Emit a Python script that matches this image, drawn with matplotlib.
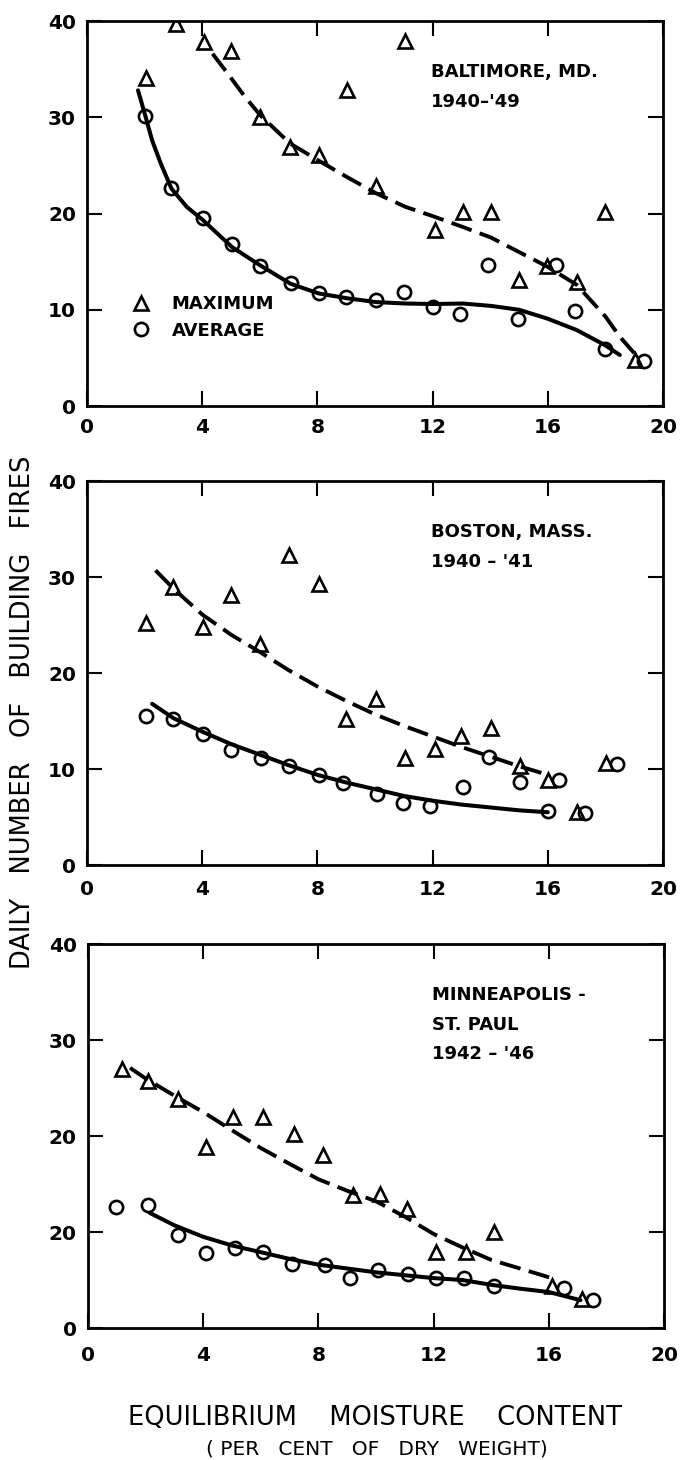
"""Daily number of building fires vs equilibrium moisture content, three cities."""

import matplotlib
matplotlib.use("Agg")
import matplotlib.pyplot as plt
from matplotlib.lines import Line2D

# ---- Baltimore, Md. 1940-'49 ----
balt_max_x = [2.06, 3.08, 4.06, 5.0, 6.0, 7.04, 8.07, 9.02, 10.04, 11.05, 12.07, 13.05, 14.03, 15.0, 15.97, 17.0, 18.0, 19.02]
balt_max_y = [34.1, 39.7, 37.8, 36.9, 30.0, 26.9, 26.1, 32.8, 22.9, 37.9, 18.3, 20.2, 20.2, 13.1, 14.5, 12.9, 20.2, 4.8]
balt_avg_x = [2.03, 2.93, 4.03, 5.04, 6.02, 7.07, 8.04, 8.99, 10.04, 11.0, 12.03, 12.96, 13.94, 14.96, 16.3, 16.96, 18.0, 19.35]
balt_avg_y = [30.1, 22.6, 19.5, 16.8, 14.6, 12.8, 11.7, 11.3, 11.0, 11.8, 10.3, 9.6, 14.7, 9.0, 14.7, 9.9, 5.9, 4.7]
balt_fit_avg_x = [1.77, 2.03, 2.26, 2.56, 2.93, 3.46, 4.03, 5.04, 6.02, 7.07, 8.04, 9.02, 10.04, 11.05, 12.03, 13.05, 14.03, 15.0, 15.97, 17.0, 18.0, 18.5]
balt_fit_avg_y = [32.8, 30.1, 27.6, 25.2, 22.6, 20.7, 19.3, 16.5, 14.6, 12.7, 11.7, 11.2, 10.8, 10.65, 10.6, 10.65, 10.4, 10.0, 9.1, 7.9, 6.3, 5.3]
balt_fit_max_x = [4.36, 4.92, 5.49, 6.02, 7.04, 8.04, 9.02, 10.04, 11.05, 12.03, 13.05, 14.03, 15.0, 15.97, 17.0, 18.0, 18.5, 19.0]
balt_fit_max_y = [36.6, 34.4, 32.1, 30.2, 27.3, 25.5, 23.8, 22.1, 20.7, 19.7, 18.6, 17.5, 16.0, 14.5, 12.6, 9.3, 7.2, 5.5]

# ---- Boston, Mass. 1940-'41 ----
bos_max_x = [2.06, 3.0, 4.03, 5.0, 6.0, 7.0, 8.04, 8.98, 10.04, 11.05, 12.07, 13.0, 14.03, 15.04, 16.0, 17.0, 18.02]
bos_max_y = [25.2, 29.0, 24.8, 28.1, 23.0, 32.3, 29.3, 15.2, 17.3, 11.2, 12.1, 13.4, 14.3, 10.3, 8.9, 5.5, 10.6]
bos_avg_x = [2.06, 3.0, 4.03, 5.0, 6.05, 7.02, 8.07, 8.9, 10.08, 10.98, 11.92, 13.04, 13.95, 15.04, 16.4, 16.0, 17.3, 18.4]
bos_avg_y = [15.5, 15.2, 13.7, 12.0, 11.2, 10.3, 9.4, 8.5, 7.4, 6.5, 6.2, 8.1, 11.3, 8.7, 8.9, 5.6, 5.4, 10.5]
bos_fit_max_x = [2.38, 3.0, 4.0, 5.0, 6.0, 7.0, 8.0, 9.0, 10.0, 11.0, 12.0, 13.0, 14.0, 15.0, 16.0]
bos_fit_max_y = [30.7, 28.8, 26.1, 24.0, 22.2, 20.3, 18.6, 17.1, 15.7, 14.5, 13.4, 12.3, 11.3, 10.3, 9.4]
bos_fit_avg_x = [2.26, 3.0, 4.0, 5.0, 6.0, 7.0, 8.0, 9.0, 10.0, 11.0, 12.0, 13.0, 14.0, 15.0, 16.0]
bos_fit_avg_y = [16.8, 15.3, 13.9, 12.6, 11.5, 10.4, 9.4, 8.6, 7.9, 7.2, 6.7, 6.3, 6.0, 5.7, 5.5]

# ---- Minneapolis-St. Paul 1942-'46 ----
minn_max_x = [1.19, 2.1, 3.11, 4.09, 5.04, 6.09, 7.14, 8.15, 9.2, 10.15, 11.08, 12.1, 13.11, 14.09, 16.12, 17.14]
minn_max_y = [27.0, 25.7, 23.9, 18.9, 22.0, 22.0, 20.2, 18.0, 13.9, 14.0, 12.4, 7.9, 7.9, 10.0, 4.4, 3.0]
minn_avg_x = [0.98, 2.1, 3.11, 4.09, 5.1, 6.08, 7.1, 8.23, 9.1, 10.08, 11.1, 12.1, 13.04, 14.09, 16.53, 17.55]
minn_avg_y = [12.6, 12.8, 9.7, 7.8, 8.3, 7.9, 6.7, 6.6, 5.25, 6.0, 5.6, 5.2, 5.25, 4.4, 4.2, 2.9]
minn_fit_max_x = [1.46, 2.0, 3.0, 4.0, 5.0, 6.0, 7.0, 8.0, 9.0, 10.0, 11.0, 12.0, 13.0, 14.0, 15.0, 16.1]
minn_fit_max_y = [27.1, 26.0, 24.2, 22.5, 20.6, 18.75, 17.1, 15.5, 14.3, 13.2, 11.6, 9.8, 8.4, 7.1, 6.2, 5.2]
minn_fit_avg_x = [2.14, 3.0, 4.0, 5.0, 6.0, 7.0, 8.0, 9.0, 10.0, 11.0, 12.0, 13.0, 14.0, 15.0, 16.0, 17.1]
minn_fit_avg_y = [12.0, 10.7, 9.5, 8.6, 7.9, 7.2, 6.6, 6.2, 5.8, 5.5, 5.2, 5.0, 4.5, 4.1, 3.75, 2.9]

x_ticks = [0, 4, 8, 12, 16, 20]
y_ticks = [0, 10, 20, 30, 40]
y_labels_std = ["0", "10", "20", "30", "40"]
y_labels_minn = ["0", "20", "20", "30", "40"]  # as printed on the original

panels = [
    dict(max_x=balt_max_x, max_y=balt_max_y, avg_x=balt_avg_x, avg_y=balt_avg_y,
         fmx=balt_fit_max_x, fmy=balt_fit_max_y, fax=balt_fit_avg_x, fay=balt_fit_avg_y,
         title=["BALTIMORE, MD.", "1940\u2013'49"], ylabels=y_labels_std,
         rect=[0.1278, 0.7219, 0.8458, 0.2637], xpad=8.5),
    dict(max_x=bos_max_x, max_y=bos_max_y, avg_x=bos_avg_x, avg_y=bos_avg_y,
         fmx=bos_fit_max_x, fmy=bos_fit_max_y, fax=bos_fit_avg_x, fay=bos_fit_avg_y,
         title=["BOSTON, MASS.", "1940 \u2013 '41"], ylabels=y_labels_std,
         rect=[0.1278, 0.4075, 0.8458, 0.2630], xpad=10.5),
    dict(max_x=minn_max_x, max_y=minn_max_y, avg_x=minn_avg_x, avg_y=minn_avg_y,
         fmx=minn_fit_max_x, fmy=minn_fit_max_y, fax=minn_fit_avg_x, fay=minn_fit_avg_y,
         title=["MINNEAPOLIS -", "ST. PAUL", "1942 \u2013 '46"], ylabels=y_labels_minn,
         rect=[0.1292, 0.0904, 0.8458, 0.2630], xpad=13),
]

plt.rcParams["font.family"] = ["DejaVu Sans"]

fig = plt.figure(figsize=(6.81, 14.6), dpi=100)

mk = dict(linestyle="none", color="black", markerfacecolor="none", markeredgewidth=1.9)

for i, p in enumerate(panels):
    ax = fig.add_axes(p["rect"])
    ax.plot(p["fax"], p["fay"], color="black", lw=2.9, solid_capstyle="round")
    ax.plot(p["fmx"], p["fmy"], color="black", lw=2.8, dashes=(5.5, 2.2))
    ax.plot(p["max_x"], p["max_y"], marker="^", markersize=10.5, **mk)
    ax.plot(p["avg_x"], p["avg_y"], marker="o", markersize=9.5, **mk)

    ax.set_xlim(0, 20)
    ax.set_ylim(0, 40)
    ax.set_xticks(x_ticks)
    ax.set_yticks(y_ticks)
    ax.set_yticklabels(p["ylabels"])
    ax.tick_params(direction="in", length=11, width=1.5, top=True, right=True,
                   labelsize=14.5)
    ax.tick_params(axis="x", pad=p["xpad"])
    ax.tick_params(axis="y", pad=8)
    for lab in ax.get_xticklabels() + ax.get_yticklabels():
        lab.set_fontweight("bold")
    for s in ax.spines.values():
        s.set_linewidth(2.0)

    for j, line in enumerate(p["title"]):
        ax.text(11.95, 34.7 - j * 3.1, line, fontsize=13, fontweight="bold",
                ha="left", va="center")

    if i == 0:
        handles = [
            Line2D([], [], marker="^", markersize=10.5, **mk),
            Line2D([], [], marker="o", markersize=9.5, **mk),
        ]
        ax.legend(handles, ["MAXIMUM", "AVERAGE"], loc="center left",
                  bbox_to_anchor=(0.062, 0.23), frameon=False, borderpad=0,
                  handlelength=1.0, handletextpad=1.2, labelspacing=0.45,
                  prop=dict(size=13, weight="bold"))

fig.text(0.034, 0.512, "DAILY   NUMBER   OF   BUILDING   FIRES", rotation=90,
         ha="center", va="center", fontsize=18.5)
fig.text(0.1278 + 0.8458 / 2, 0.024, "EQUILIBRIUM    MOISTURE    CONTENT",
         ha="center", va="baseline", fontsize=18.5)
fig.text(0.1278 + 0.8458 / 2 + 0.003, 0.0038, "( PER   CENT   OF   DRY   WEIGHT)",
         ha="center", va="baseline", fontsize=14.5)

fig.savefig("out.png", dpi=100)
